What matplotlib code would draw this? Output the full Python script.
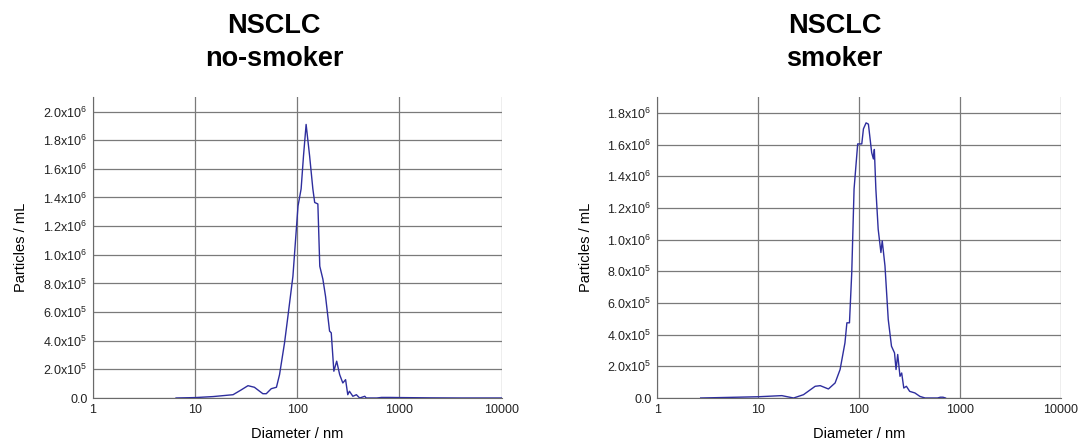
import matplotlib
matplotlib.use("Agg")
import matplotlib.pyplot as plt
from matplotlib.ticker import FixedLocator, FuncFormatter

plt.rcParams['font.family'] = ['Liberation Sans', 'DejaVu Sans']
plt.rcParams['mathtext.fontset'] = 'custom'
plt.rcParams['mathtext.rm'] = 'Liberation Sans'
plt.rcParams['mathtext.it'] = 'Liberation Sans'

# diameters (nm) and concentrations (particles/mL)
nonsmoker_d = [6.5, 10, 15, 23.5, 28, 32.9, 38, 46, 49.7, 55.6, 62.5, 67, 75, 81, 90.6,
               101.6, 109, 115, 122, 132, 142, 148, 159, 166, 178, 189, 207, 215,
               228, 243, 260, 279, 297, 312, 324, 350, 379, 408, 458, 473, 600,
               667, 800, 1000, 2000, 4000, 10000]
nonsmoker_c = [0, 3e3, 1.0e4, 2.3e4, 5.5e4, 8.6e4, 7.5e4, 3.0e4, 3.0e4, 6.5e4, 7.5e4,
               1.63e5, 3.85e5, 5.72e5, 8.5e5, 1.34e6, 1.46e6, 1.69e6, 1.91e6, 1.69e6,
               1.46e6, 1.365e6, 1.355e6, 9.2e5, 8.3e5, 7.1e5, 4.67e5, 4.55e5, 1.87e5,
               2.57e5, 1.63e5, 1.05e5, 1.28e5, 2.3e4, 4.7e4, 1.2e4, 2.3e4, 0, 1.2e4,
               0, 0, 4e3, 4e3, 3e3, 1e3, 0, 0]

smoker_d = [2.7, 10.1, 17.2, 22.5, 28.2, 36.8, 41.3, 49.8, 58, 65, 72.6, 75.9, 80.5,
            84.8, 89.4, 97.1, 106.6, 110.7, 117.6, 124, 133.6, 139, 142, 147, 155,
            165, 170, 181, 195, 210, 225, 233, 242, 255, 265, 278, 295, 318, 358,
            402, 452, 600, 640, 680, 720]
smoker_c = [0, 8e3, 1.5e4, 0, 2.1e4, 7.4e4, 7.8e4, 5.7e4, 9.5e4, 1.8e5, 3.48e5,
            4.75e5, 4.75e5, 7.92e5, 1.32e6, 1.605e6, 1.605e6, 1.70e6, 1.738e6, 1.73e6,
            1.55e6, 1.51e6, 1.57e6, 1.32e6, 1.066e6, 9.19e5, 9.93e5, 8.34e5, 4.96e5,
            3.27e5, 2.85e5, 1.8e5, 2.75e5, 1.37e5, 1.58e5, 6.3e4, 7.4e4, 4.2e4,
            3.2e4, 1.0e4, 0, 0, 5e3, 5e3, 0]

titles = ["NSCLC\nno-smoker", "NSCLC\nsmoker"]
y_tops = [2.1e6, 1.9e6]
y_ticks = [[i * 2e5 for i in range(11)], [i * 2e5 for i in range(10)]]
x_ticks = [1, 10, 100, 1000, 10000]
x_labels = ["1", "10", "100", "1000", "10000"]


def sci_label(v, pos):
    if v == 0:
        return "0.0"
    exp = 0
    m = v
    while m >= 10:
        m /= 10
        exp += 1
    return r"%.1fx10$^{%d}$" % (m, exp)


fig = plt.figure(figsize=(10.88, 4.48), dpi=100)
boxes = [[0.0855, 0.1116, 0.3755, 0.6714], [0.604, 0.1116, 0.371, 0.6714]]
title_x = [0.252, 0.767]
data = [(nonsmoker_d, nonsmoker_c), (smoker_d, smoker_c)]

for i in range(2):
    ax = fig.add_axes(boxes[i])
    d, c = data[i]
    ax.plot(d, c, color="#2e2e9e", lw=1.0, zorder=3)
    ax.set_xscale("log")
    ax.set_xlim(1, 10000)
    ax.set_ylim(0, y_tops[i])
    ax.xaxis.set_major_locator(FixedLocator(x_ticks))
    ax.xaxis.set_minor_locator(FixedLocator([]))
    ax.set_xticklabels(x_labels)
    ax.yaxis.set_major_locator(FixedLocator(y_ticks[i]))
    ax.yaxis.set_major_formatter(FuncFormatter(sci_label))
    ax.grid(True, color="#7a7a7a", lw=0.9)
    ax.set_axisbelow(True)
    for s in ["top", "right"]:
        ax.spines[s].set_visible(False)
    ax.spines["left"].set_color("#6a6a6a")
    ax.spines["bottom"].set_color("#6a6a6a")
    ax.tick_params(length=0, labelsize=9, pad=4, colors="#222222")
    ax.set_xlabel("Diameter / nm", fontsize=10.5, labelpad=8)
    ax.set_ylabel("Particles / mL", fontsize=10.5)
    ax.yaxis.set_label_coords(-0.16, 0.5)
    fig.text(title_x[i], 0.97, titles[i], ha="center", va="top", fontsize=19.5,
             fontweight="bold", linespacing=1.35)

fig.savefig("out.png", dpi=100)
